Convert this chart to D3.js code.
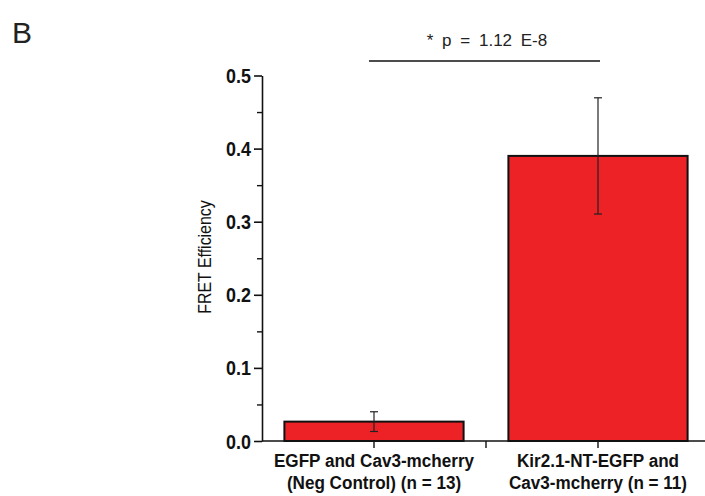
<!DOCTYPE html>
<html>
<head>
<meta charset="utf-8">
<script src="https://cdn.jsdelivr.net/npm/d3@7"></script>
<style>
  body { margin: 0; background: #fff; }
  svg { display: block; font-family: "Liberation Sans", Arial, sans-serif; }
  .axis path, .axis line { stroke: #111; }
</style>
</head>
<body>
<div id="chart"></div>
<script>
const WIDTH = 705, HEIGHT = 496;

// data
const categories = ["neg", "kir"];
const catLabels = [
  ["EGFP and Cav3-mcherry", "(Neg Control) (n = 13)"],
  ["Kir2.1-NT-EGFP and", "Cav3-mcherry (n = 11)"]
];
const means = [0.0265, 0.39];
const errs = [0.0135, 0.0795];
const yTicks = [0, 0.1, 0.2, 0.3, 0.4, 0.5];
const yMinor = [0.05, 0.15, 0.25, 0.35, 0.45];
const pText = "* p = 1.12 E-8";

const svg = d3.select("#chart").append("svg")
  .attr("width", WIDTH).attr("height", HEIGHT);

const y = d3.scaleLinear().domain([0, 0.5]).range([441, 75.5]);
const x = d3.scaleBand().domain(categories).range([262, 710])
  .paddingInner(0.2).paddingOuter(0.1);

// panel letter
svg.append("text").attr("x", 12).attr("y", 43)
  .style("font-size", "30px").style("fill", "#222").text("B");

// y axis
const yAxis = svg.append("g").attr("class", "axis")
  .attr("transform", "translate(262,0)")
  .call(d3.axisLeft(y).tickValues(yTicks).tickSize(8).tickSizeOuter(0)
    .tickFormat(d => d.toFixed(1)));
yAxis.select(".domain").attr("stroke-width", 1.6);
yAxis.selectAll(".tick line").attr("stroke-width", 1.6);
// condensed bold tick labels
yAxis.selectAll(".tick text")
  .attr("x", null).attr("dy", "0.36em")
  .attr("transform", "translate(-11,0) scale(0.92,1)")
  .style("font-family", "'Liberation Sans', Arial, sans-serif")
  .style("font-size", "19.5px").style("font-weight", "bold").style("fill", "#111");

const yMinorAxis = svg.append("g").attr("class", "axis")
  .attr("transform", "translate(262,0)")
  .call(d3.axisLeft(y).tickValues(yMinor).tickSize(5).tickFormat(""));
yMinorAxis.select(".domain").remove();
yMinorAxis.selectAll(".tick line").attr("stroke-width", 1.4);

// y label
svg.append("text")
  .attr("transform", "translate(211,257) rotate(-90) scale(0.86,1)")
  .attr("text-anchor", "middle")
  .style("font-size", "18.5px").style("fill", "#111")
  .text("FRET Efficiency");

// x axis
const bw = x.bandwidth();
const gap = x.step() - bw;
const xTickPos = [x("neg") + bw / 2, x("kir") - gap / 2, x("kir") + bw / 2];
svg.append("line").attr("x1", 262).attr("x2", WIDTH)
  .attr("y1", y(0)).attr("y2", y(0))
  .attr("stroke", "#111").attr("stroke-width", 1.6);
svg.selectAll(".xtick").data(xTickPos).enter().append("line")
  .attr("class", "xtick")
  .attr("x1", d => d).attr("x2", d => d)
  .attr("y1", y(0)).attr("y2", y(0) + 7)
  .attr("stroke", "#111").attr("stroke-width", 1.4);

// bars
svg.selectAll(".bar").data(categories).enter().append("rect")
  .attr("class", "bar")
  .attr("x", d => x(d))
  .attr("y", (d, i) => y(means[i]))
  .attr("width", bw)
  .attr("height", (d, i) => y(0) - y(means[i]))
  .attr("fill", "#ec2227")
  .attr("stroke", "#111").attr("stroke-width", 2);

// error bars
const eb = svg.selectAll(".err").data(categories).enter().append("g").attr("class", "err")
  .attr("stroke", "#222").attr("stroke-width", 1.2);
eb.append("line")
  .attr("x1", d => x(d) + bw / 2).attr("x2", d => x(d) + bw / 2)
  .attr("y1", (d, i) => y(means[i] + errs[i]))
  .attr("y2", (d, i) => y(means[i] - errs[i]));
eb.append("line")
  .attr("x1", d => x(d) + bw / 2 - 4).attr("x2", d => x(d) + bw / 2 + 4)
  .attr("y1", (d, i) => y(means[i] + errs[i]))
  .attr("y2", (d, i) => y(means[i] + errs[i]));
eb.append("line")
  .attr("x1", d => x(d) + bw / 2 - 4).attr("x2", d => x(d) + bw / 2 + 4)
  .attr("y1", (d, i) => y(means[i] - errs[i]))
  .attr("y2", (d, i) => y(means[i] - errs[i]));

// category labels, two lines each, squeezed horizontally
categories.forEach((c, i) => {
  catLabels[i].forEach((t, j) => {
    svg.append("text")
      .attr("transform", `translate(${x(c) + bw / 2},${467 + j * 22}) scale(0.9,1)`)
      .attr("text-anchor", "middle")
      .style("font-size", "19px").style("font-weight", "bold").style("fill", "#111")
      .text(t);
  });
});

// significance bracket
const c1 = x("neg") + bw / 2, c2 = x("kir") + bw / 2;
svg.append("line").attr("x1", c1 - 5).attr("x2", c2 + 2)
  .attr("y1", 61).attr("y2", 61)
  .attr("stroke", "#111").attr("stroke-width", 1.4);
svg.append("text").attr("x", (c1 + c2) / 2 + 1).attr("y", 45.5)
  .attr("text-anchor", "middle")
  .style("font-size", "17px").style("word-spacing", "4px").style("fill", "#222")
  .text(pText);
</script>
</body>
</html>
